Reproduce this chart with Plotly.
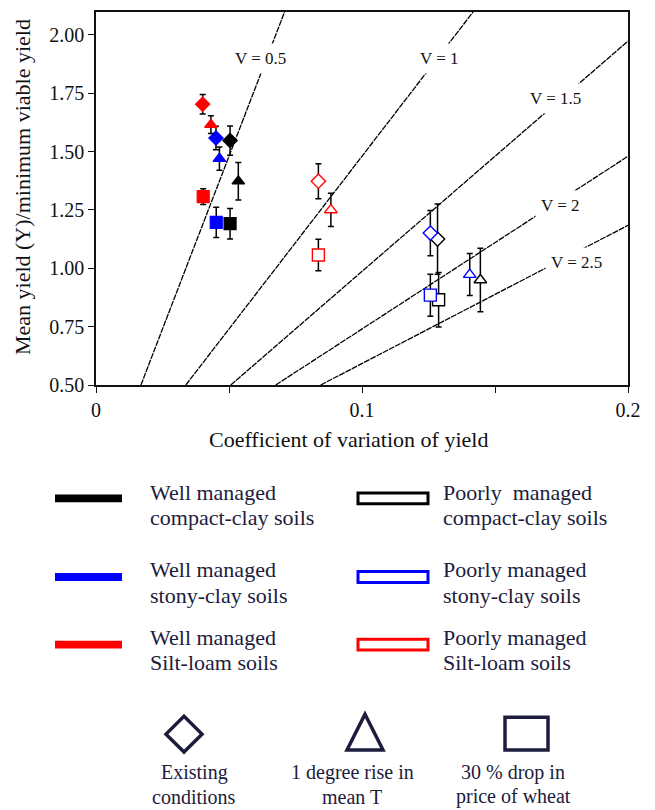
import plotly.graph_objects as go

# ---------------- data ----------------
scenarios = ["Existing conditions", "1 degree rise in mean T", "30 % drop in price of wheat"]
symbols = ["diamond", "triangle-up", "square"]
marker_sizes = [11, 11, 12]

groups = ["Well managed compact-clay soils", "Well managed stony-clay soils", "Well managed Silt-loam soils",
          "Poorly managed compact-clay soils", "Poorly managed stony-clay soils", "Poorly managed Silt-loam soils"]
group_colors = ["#000000", "#0000ff", "#ff0000", "#000000", "#0000ff", "#ff0000"]
group_filled = [True, True, True, False, False, False]

# coefficient of variation (x), mean yield ratio (y), error (+/-) per scenario
cv = [
    [0.0504, 0.0535, 0.0504],
    [0.0451, 0.0464, 0.0452],
    [0.0401, 0.0432, 0.0403],
    [0.1284, 0.1445, 0.1288],
    [0.1257, 0.1405, 0.1257],
    [0.0836, 0.0883, 0.0836],
]
yld = [
    [1.547, 1.373, 1.191],
    [1.558, 1.470, 1.197],
    [1.703, 1.615, 1.307],
    [1.125, 0.950, 0.865],
    [1.151, 0.973, 0.885],
    [1.373, 1.250, 1.057],
]
err = [
    [0.063, 0.080, 0.065],
    [0.050, 0.050, 0.065],
    [0.042, 0.038, 0.034],
    [0.150, 0.136, 0.117],
    [0.097, 0.090, 0.090],
    [0.075, 0.071, 0.067],
]

# iso-V lines  Y = K * CV / V
v_values = [0.5, 1, 1.5, 2, 2.5]
v_labels = ["V = 0.5", "V = 1", "V = 1.5", "V = 2", "V = 2.5"]
K = 14.8
v_label_pos = [(0.0618, 1.90), (0.129, 1.90), (0.1729, 1.727), (0.1748, 1.271), (0.1808, 1.024)]

x_range = [0, 0.2]
y_range = [0.5, 2.098]
y_ticks = [0.5, 0.75, 1.0, 1.25, 1.5, 1.75, 2.0]
x_ticks = [0, 0.1, 0.2]

# ---------------- figure ----------------
W, H = 655, 810
L, R, T, B = 96, 27, 10, 425
FONT = "Liberation Serif, Times New Roman, serif"
NAVY = "#1c1c3c"
INK = "#111111"

fig = go.Figure()

for V in v_values:
    x0 = 0.5 * V / K
    x1 = min(x_range[1], y_range[1] * V / K)
    fig.add_trace(go.Scatter(x=[x0, x1], y=[K * x0 / V, K * x1 / V], mode="lines",
                             line=dict(color="#000000", width=1.3, dash="6px,1px"),
                             hoverinfo="skip", showlegend=False))

for gi, g in enumerate(groups):
    col = group_colors[gi]
    fig.add_trace(go.Scatter(
        x=cv[gi], y=yld[gi], mode="markers", name=g, showlegend=False,
        error_y=dict(type="data", array=err[gi], color="#000000", thickness=1.5, width=3),
        marker=dict(symbol=symbols, size=marker_sizes, opacity=1,
                    color=col if group_filled[gi] else "#ffffff",
                    line=dict(color=col, width=1.2 if group_filled[gi] else 1.4))))

for lab, (lx, ly) in zip(v_labels, v_label_pos):
    fig.add_annotation(x=lx, y=ly, text=lab, showarrow=False, xref="x", yref="y",
                       xanchor="center", yanchor="middle",
                       font=dict(family=FONT, size=17, color=INK),
                       bgcolor="#ffffff", borderpad=5)

pw, ph = W - L - R, H - T - B


def px(x):
    return (x - L) / pw


def py(y):
    return (H - B - y) / ph


def text_at(x, y, txt, size, color, anchor="center", angle=0):
    fig.add_annotation(x=px(x), y=py(y), xref="paper", yref="paper", text=txt, showarrow=False,
                       xanchor=anchor, yanchor="middle", textangle=angle,
                       font=dict(family=FONT, size=size, color=color))


# axis titles
text_at(348, 440, "Coefficient of variation of yield", 22, INK)
text_at(22, 186, "Mean yield (Y)/minimum viable yield", 22, INK, angle=-90)

# legend: bars + labels
bar_y = [499, 578, 646]
text_rows = [(493, 518), (570, 597), (639, 664)]
left_text2 = ["compact-clay soils", "stony-clay soils", "Silt-loam soils"]
LEG = 22
for i in range(3):
    col = group_colors[i]
    yc = bar_y[i]
    fig.add_shape(type="rect", xref="paper", yref="paper", x0=px(55), x1=px(122), y0=py(yc - 4), y1=py(yc + 4),
                  fillcolor=col, line=dict(width=0))
    fig.add_shape(type="rect", xref="paper", yref="paper", x0=px(358), x1=px(428), y0=py(yc - 5.5), y1=py(yc + 5.5),
                  fillcolor="#ffffff", line=dict(color=col, width=3))
    t1, t2 = text_rows[i]
    text_at(148, t1, "Well managed", LEG, NAVY, anchor="left")
    text_at(441, t1, "Poorly&nbsp; managed" if i == 0 else "Poorly managed", LEG, NAVY, anchor="left")
    text_at(148, t2, left_text2[i], LEG, NAVY, anchor="left")
    text_at(441, t2, left_text2[i], LEG, NAVY, anchor="left")

# legend: scenario symbols
dcx, dcy, dr = 184, 736, 18
fig.add_shape(type="path", xref="paper", yref="paper",
              path=f"M {px(dcx)} {py(dcy - dr)} L {px(dcx + dr)} {py(dcy)} L {px(dcx)} {py(dcy + dr)} L {px(dcx - dr)} {py(dcy)} Z",
              line=dict(color=NAVY, width=3.5), fillcolor="rgba(0,0,0,0)")
fig.add_shape(type="path", xref="paper", yref="paper",
              path=f"M {px(365)} {py(716)} L {px(383)} {py(752)} L {px(347)} {py(752)} Z",
              line=dict(color=NAVY, width=3.5), fillcolor="rgba(0,0,0,0)")
fig.add_shape(type="rect", xref="paper", yref="paper", x0=px(505), x1=px(548), y0=py(719), y1=py(752),
              line=dict(color=NAVY, width=3.5), fillcolor="rgba(0,0,0,0)")

sc_lines = [("Existing", "conditions", 194), ("1 degree rise in", "mean T", 352), ("30 % drop in", "price of wheat", 513)]
for a, b, cx in sc_lines:
    text_at(cx, 775, a, 20, NAVY)
    text_at(cx, 799, b, 20, NAVY)

axis_common = dict(showline=True, linecolor=INK, linewidth=1.5, mirror=True, showgrid=False,
                   zeroline=False, ticks="outside", tickcolor=INK, ticklen=6, tickwidth=1.2,
                   tickfont=dict(family=FONT, size=20, color=INK))
fig.update_xaxes(range=x_range, tickvals=x_ticks, ticktext=["0", "0.1", "0.2"],
                 minor=dict(dtick=0.05, tick0=0, ticks="outside", ticklen=6, tickcolor=INK, tickwidth=1.2),
                 **axis_common)
fig.update_yaxes(range=y_range, tickvals=y_ticks, ticktext=[f"{v:.2f}" for v in y_ticks], **axis_common)

fig.update_layout(width=W, height=H, margin=dict(l=L, r=R, t=T, b=B), plot_bgcolor="#ffffff",
                  paper_bgcolor="#ffffff", showlegend=False)

fig.write_html("out.html", config={"displayModeBar": False},
               post_script="document.body.style.margin='0';")
